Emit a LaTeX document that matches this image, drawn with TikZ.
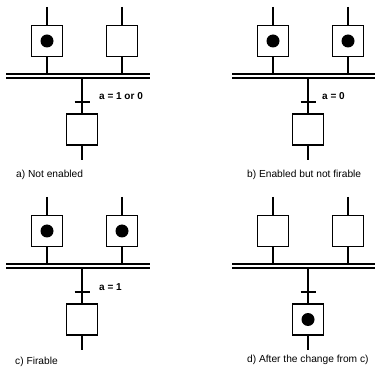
\documentclass[tikz,border=0pt]{standalone}
\usepackage{fontspec}
\setmainfont{Liberation Sans}
\begin{document}
\begin{tikzpicture}[x=1pt,y=-1pt,
  stepbox/.style={draw,line width=1.5pt,minimum size=31pt,inner sep=0pt,fill=white},
  tokendot/.style={circle,fill=black,minimum size=13pt,inner sep=0pt},
  link/.style={line width=1.5pt},
  barline/.style={line width=1.2pt},
  condlabel/.style={font=\bfseries\fontsize{10}{12}\selectfont,anchor=west,inner sep=0pt},
  caption/.style={font=\fontsize{10.2}{12}\selectfont,anchor=west,inner sep=0pt}]
\useasboundingbox (0,0) rectangle (375,374);
\newcommand\sfcpanel[3]{%
  \begin{scope}[shift={(#2,#3)}]
    \node[stepbox] (#1L) at (47,41) {};
    \node[stepbox] (#1R) at (122,41) {};
    \node[stepbox] (#1B) at (82,129.5) {};
    \coordinate (#1Ltop) at (47,7);
    \coordinate (#1Rtop) at (122,7);
    \coordinate (#1b1w) at (6,74);
    \coordinate (#1b1e) at (150,74);
    \coordinate (#1b2w) at (6,78);
    \coordinate (#1b2e) at (150,78);
    \coordinate (#1tw) at (74.5,102);
    \coordinate (#1te) at (89.5,102);
    \coordinate (#1end) at (82,160);
  \end{scope}
  \draw[link] (#1Ltop) -- (#1L.north);
  \draw[link] (#1Rtop) -- (#1R.north);
  \draw[link] (#1L.south) -- (#1L.south |- #1b1w);
  \draw[link] (#1R.south) -- (#1R.south |- #1b1w);
  \draw[barline] (#1b1w) -- (#1b1e);
  \draw[barline] (#1b2w) -- (#1b2e);
  \draw[link] (#1B.north |- #1b2w) -- (#1B.north);
  \draw[link] (#1tw) -- (#1te);
  \draw[link] (#1B.south) -- (#1end);
}
\sfcpanel{a}{0}{0}
\sfcpanel{b}{226}{0}
\sfcpanel{c}{0}{190}
\sfcpanel{d}{226}{190}
% tokens
\node[tokendot] (atok) at (aL) {};
\node[tokendot] (btok1) at (bL) {};
\node[tokendot] (btok2) at (bR) {};
\node[tokendot] (ctok1) at (cL) {};
\node[tokendot] (ctok2) at (cR) {};
\node[tokendot] (dtok) at (dB) {};
% conditions
\node[condlabel] (acond) at (99,96) {a = 1 or 0};
\node[condlabel] (bcond) at (322,96) {a = 0};
\node[condlabel] (ccond) at (99,287) {a = 1};
% captions
\node[caption] (acap) at (16,174.5) {a) Not enabled};
\node[caption] (bcap) at (247,174.5) {b) Enabled but not firable};
\node[caption] (ccap) at (15,362) {c) Firable};
\node[caption] (dcap) at (247,360) {d) After the change from c)};
\end{tikzpicture}
\end{document}
